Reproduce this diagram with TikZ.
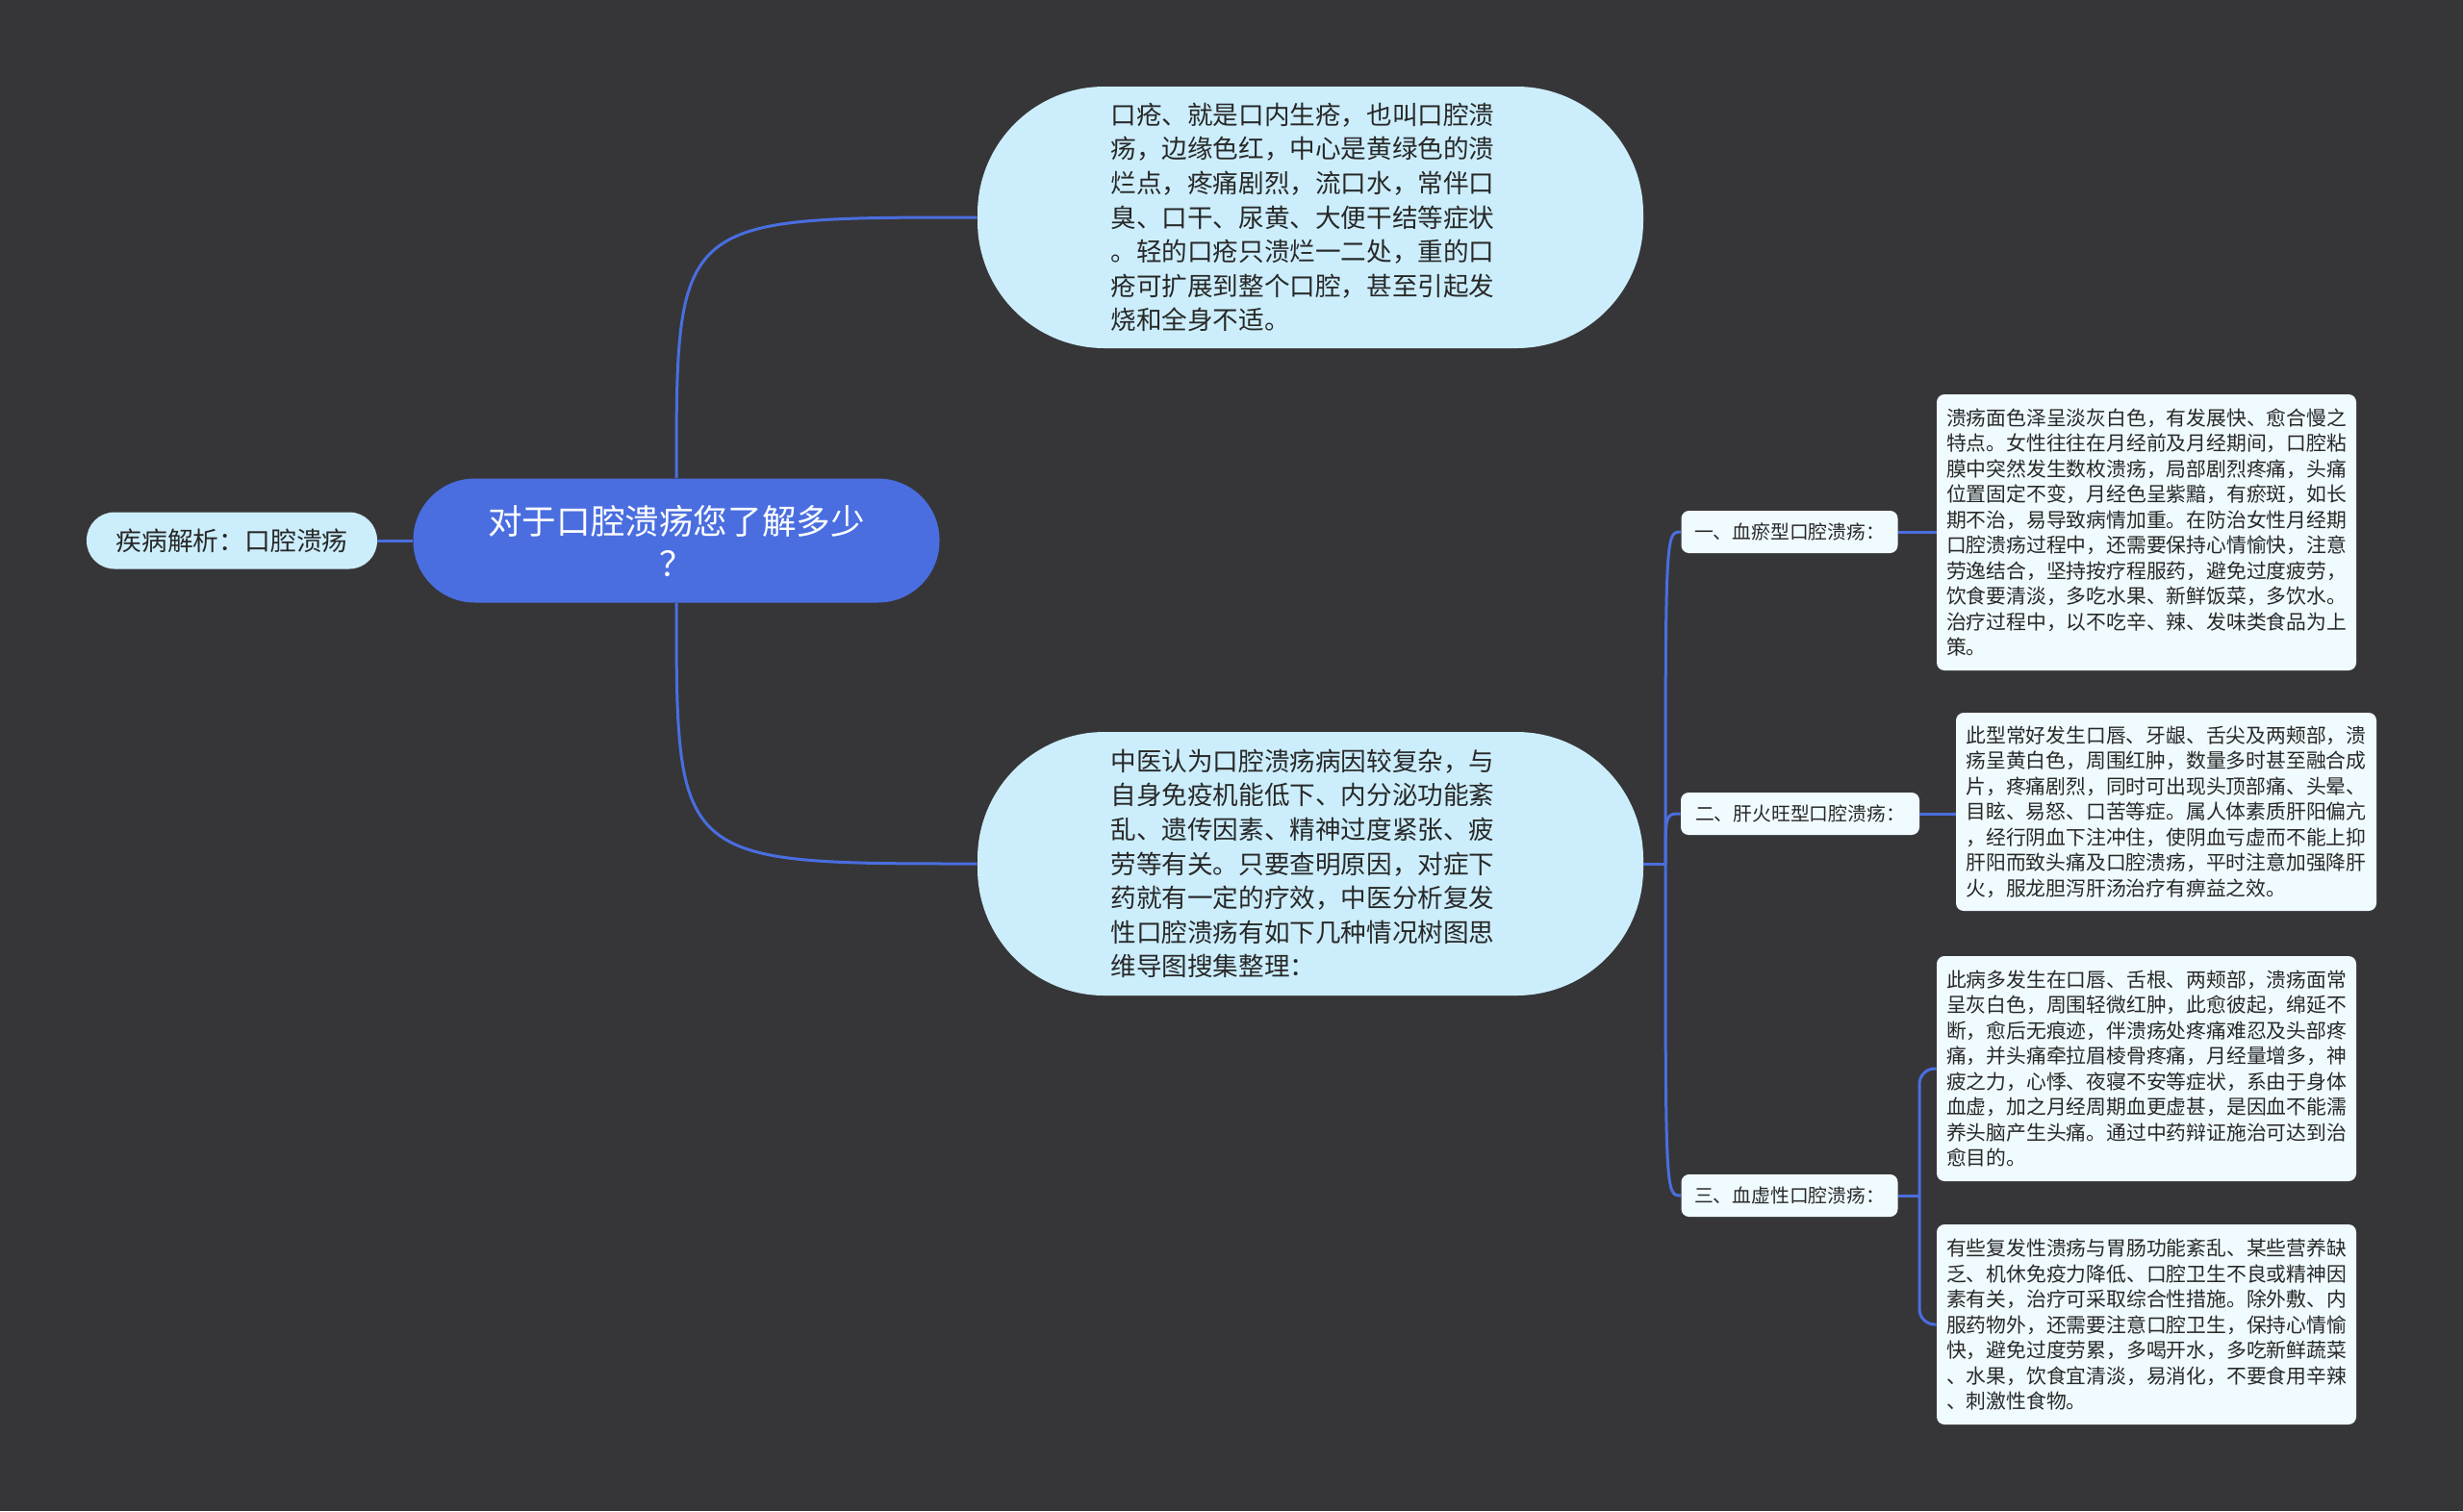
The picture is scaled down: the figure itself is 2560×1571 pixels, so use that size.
\documentclass[tikz,border=0pt]{standalone}
\usepackage{fontspec}
\setmainfont{Noto Sans CJK SC}
\definecolor{bgc}{RGB}{54,54,56}
\definecolor{rootc}{RGB}{74,110,224}
\definecolor{bubc}{RGB}{204,238,252}
\definecolor{boxc}{RGB}{240,251,255}
\definecolor{txtc}{RGB}{40,40,40}
\tikzset{
  conn/.style={draw=rootc, line width=1.5pt},
  rootnode/.style={fill=rootc, text=white, rounded corners=32pt, minimum width=273.5pt, minimum height=64.5pt, align=center, inner sep=0pt, font=\fontsize{17.8}{22}\selectfont},
  leftnode/.style={fill=bubc, text=txtc, rounded corners=14.5pt, minimum width=151pt, minimum height=29.5pt, inner sep=0pt, font=\fontsize{13.4}{16}\selectfont},
  bubble/.style={fill=bubc, text=txtc, rounded corners=66pt, minimum width=346pt, minimum height=136pt, text width=207.5pt, align=left, inner sep=0pt, font=\fontsize{13.3}{17.8}\selectfont},
  labelbox/.style={fill=boxc, text=txtc, rounded corners=4pt, minimum height=22pt, inner sep=0pt, font=\fontsize{9.9}{12}\selectfont},
  textbox/.style={fill=boxc, text=txtc, rounded corners=4pt, minimum width=218pt, align=left, inner sep=0pt, font=\fontsize{10.4}{13.25}\selectfont}
}
\begin{document}
\begin{tikzpicture}[x=0.5pt,y=-0.5pt]
\fill[bgc] (0,0) rectangle (2560,1571);
\useasboundingbox (0,0) rectangle (2560,1571);

\node[rootnode] (r) at (703,562) {对于口腔溃疡您了解多少\\？};
\node[leftnode] (l) at (241,562) {疾病解析：口腔溃疡};

\node[bubble] (t) at (1362,226) {口疮、就是口内生疮，也叫口腔溃\\疡，边缘色红，中心是黄绿色的溃\\烂点，疼痛剧烈，流口水，常伴口\\臭、口干、尿黄、大便干结等症状\\。轻的口疮只溃烂一二处，重的口\\疮可扩展到整个口腔，甚至引起发\\烧和全身不适。};

\node[bubble, minimum height=137pt] (b) at (1362,898) {中医认为口腔溃疡病因较复杂，与\\自身免疫机能低下、内分泌功能紊\\乱、遗传因素、精神过度紧张、疲\\劳等有关。只要查明原因，对症下\\药就有一定的疗效，中医分析复发\\性口腔溃疡有如下几种情况树图思\\维导图搜集整理：};

\node[labelbox, minimum width=112.5pt] (l1) at (1860,553) {一、血瘀型口腔溃疡：};
\node[labelbox, minimum width=124pt] (l2) at (1871,846) {二、肝火旺型口腔溃疡：};
\node[labelbox, minimum width=112.5pt] (l3) at (1860,1243) {三、血虚性口腔溃疡：};

\node[textbox, minimum height=143.5pt] (x1) at (2231,553.5) {溃疡面色泽呈淡灰白色，有发展快、愈合慢之\\特点。女性往往在月经前及月经期间，口腔粘\\膜中突然发生数枚溃疡，局部剧烈疼痛，头痛\\位置固定不变，月经色呈紫黯，有瘀斑，如长\\期不治，易导致病情加重。在防治女性月经期\\口腔溃疡过程中，还需要保持心情愉快，注意\\劳逸结合，坚持按疗程服药，避免过度疲劳，\\饮食要清淡，多吃水果、新鲜饭菜，多饮水。\\治疗过程中，以不吃辛、辣、发味类食品为上\\策。};

\node[textbox, minimum width=218.5pt, minimum height=103pt] (x2) at (2251.5,844) {此型常好发生口唇、牙龈、舌尖及两颊部，溃\\疡呈黄白色，周围红肿，数量多时甚至融合成\\片，疼痛剧烈，同时可出现头顶部痛、头晕、\\目眩、易怒、口苦等症。属人体素质肝阳偏亢\\，经行阴血下注冲住，使阴血亏虚而不能上抑\\肝阳而致头痛及口腔溃疡，平时注意加强降肝\\火，服龙胆泻肝汤治疗有痹益之效。};

\node[textbox, minimum height=117pt] (x3) at (2231,1111) {此病多发生在口唇、舌根、两颊部，溃疡面常\\呈灰白色，周围轻微红肿，此愈彼起，绵延不\\断，愈后无痕迹，伴溃疡处疼痛难忍及头部疼\\痛，并头痛牵拉眉棱骨疼痛，月经量增多，神\\疲之力，心悸、夜寝不安等症状，系由于身体\\血虚，加之月经周期血更虚甚，是因血不能濡\\养头脑产生头痛。通过中药辩证施治可达到治\\愈目的。};

\node[textbox, minimum height=104pt] (x4) at (2231,1377) {有些复发性溃疡与胃肠功能紊乱、某些营养缺\\乏、机休免疫力降低、口腔卫生不良或精神因\\素有关，治疗可采取综合性措施。除外敷、内\\服药物外，还需要注意口腔卫生，保持心情愉\\快，避免过度劳累，多喝开水，多吃新鲜蔬菜\\、水果，饮食宜清淡，易消化，不要食用辛辣\\、刺激性食物。};

% connectors
\draw[conn] (r.west) -- (l.east);
\draw[conn] (r.north) .. controls (r.north |- t.west) .. (t.west);
\draw[conn] (r.south) .. controls (r.south |- b.west) .. (b.west);

\coordinate (j) at (1731,898);
\draw[conn] (b.east) -- (j);
\draw[conn] (j) .. controls (j |- l1.west) .. (l1.west);
\draw[conn] (j) .. controls (j |- l2.west) .. (l2.west);
\draw[conn] (j) .. controls (j |- l3.west) .. (l3.west);

\draw[conn] (l1.east) -- (x1.west |- l1.east);
\draw[conn] (l2.east) -- (x2.west |- l2.east);

\coordinate (k) at (1995,1243);
\draw[conn] (l3.east) -- (k);
\draw[conn, rounded corners=8pt] (k) |- (x3.west);
\draw[conn, rounded corners=8pt] (k) |- (x4.west);
\end{tikzpicture}
\end{document}
